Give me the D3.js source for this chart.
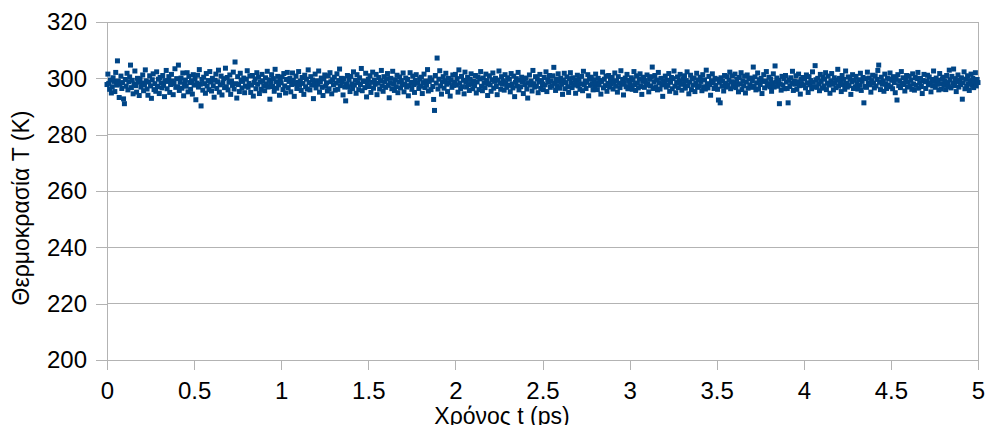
<!DOCTYPE html>
<html>
<head>
<meta charset="utf-8">
<script src="https://cdn.jsdelivr.net/npm/d3@7"></script>
<style>
  body { margin: 0; background: #fff; }
  svg { display: block; font-family: "Liberation Sans", Arial, sans-serif; }
</style>
</head>
<body>
<svg width="988" height="425"></svg>
<script>
// time step between samples (ps)
const dt = 0.005;

// temperature (K), one row per 0.1 ps
const temps = [
  297.8,301.5,298.2,296.1,299.4,294.8,297.0,300.2,298.9,295.3,302.1,297.6,306.2,299.0,293.2,297.9,300.8,296.4,298.5,292.7,
  291.0,299.6,297.2,301.8,295.9,298.8,300.5,304.7,296.7,299.3,294.5,298.0,302.6,297.4,295.1,300.0,298.6,293.9,299.8,296.9,
  298.3,301.2,295.6,297.7,303.0,299.1,296.2,294.0,298.7,300.9,297.3,292.9,299.5,301.6,296.0,298.1,295.4,302.3,297.1,299.7,
  294.6,300.3,298.4,296.6,301.0,297.5,293.5,299.2,302.8,296.3,298.9,300.6,295.0,297.8,301.4,299.0,294.2,298.2,303.4,296.8,
  299.9,297.0,304.7,295.7,298.6,300.1,296.5,301.9,293.8,298.0,299.4,297.2,302.0,295.2,300.7,298.5,296.1,299.1,294.4,301.3,
  297.6,299.8,292.4,298.3,301.1,296.9,303.1,297.9,290.2,299.6,295.8,300.4,298.1,294.7,301.7,297.3,299.2,296.0,302.4,298.7,
  295.5,300.0,297.4,293.3,299.3,301.5,296.4,298.8,302.9,295.1,297.7,300.8,294.1,298.4,299.9,296.7,303.6,297.0,300.3,295.9,
  298.6,301.2,294.3,299.0,297.5,302.2,296.2,305.8,298.1,293.0,300.6,297.8,295.3,301.8,299.4,296.6,298.9,300.1,294.9,297.2,
  299.7,302.7,296.8,298.2,300.9,295.0,297.6,301.0,293.7,298.5,299.8,296.3,302.0,297.9,300.4,294.6,298.7,296.1,301.4,299.1,
  297.4,295.6,300.2,298.0,302.5,296.9,299.5,292.6,298.3,301.3,297.1,299.9,295.4,303.2,298.8,296.5,300.7,297.7,294.0,299.2,
  298.4,300.5,296.0,301.7,297.3,294.8,299.6,302.1,296.7,298.9,300.0,295.2,297.8,301.9,299.3,293.6,298.1,300.8,296.4,298.6,
  302.4,297.5,299.0,295.7,300.3,298.2,294.3,301.1,297.0,299.7,296.2,303.0,298.5,295.9,300.6,297.6,299.4,292.8,298.0,301.5,
  296.6,299.1,297.9,302.6,295.1,298.7,300.1,296.8,293.9,299.8,301.2,297.2,298.4,295.5,300.9,296.3,302.0,298.8,294.5,299.5,
  297.7,300.4,295.8,298.3,301.6,296.1,299.2,303.3,297.4,300.0,298.6,294.1,299.9,296.9,292.0,298.1,301.0,297.0,299.6,295.3,
  300.7,298.0,296.4,302.3,297.6,299.3,294.7,301.3,298.5,296.0,300.2,297.8,303.5,295.6,299.0,298.9,296.7,301.8,293.4,298.2,
  299.7,297.1,300.9,295.0,298.6,302.2,296.5,299.4,297.9,301.4,294.2,298.3,300.3,296.2,299.1,302.8,297.3,295.4,300.6,298.8,
  296.8,299.9,301.7,297.5,293.1,298.4,300.0,296.3,302.5,298.1,295.7,299.5,297.0,301.1,294.9,298.7,300.5,296.6,299.2,297.7,
  301.9,295.2,298.0,300.1,296.9,299.6,293.8,297.4,302.0,298.6,296.1,300.8,297.8,295.0,299.3,301.3,291.2,298.2,296.4,299.8,
  297.2,300.4,294.6,298.5,301.5,296.7,299.0,297.6,303.1,295.5,298.9,300.2,296.0,299.4,297.1,292.5,288.6,301.0,298.3,307.2,
  296.2,299.7,302.7,297.3,294.4,298.8,300.6,296.5,299.1,301.8,297.9,295.3,300.0,298.4,293.7,299.5,296.8,301.2,297.5,298.7,
  301.4,297.6,299.9,295.1,303.0,298.2,296.4,300.7,297.0,299.3,294.5,302.2,298.6,296.9,300.3,297.8,295.7,299.6,301.6,298.0,
  296.3,299.0,297.4,301.0,294.8,298.7,300.5,296.0,299.8,302.4,297.2,295.6,300.1,298.4,296.7,301.5,299.2,293.9,298.1,300.9,
  297.7,295.4,299.5,301.9,296.5,298.9,300.0,297.1,294.2,299.4,302.6,298.3,296.1,300.6,297.9,299.1,295.8,301.3,298.5,296.8,
  300.2,297.5,299.7,295.2,301.7,298.0,296.6,300.8,293.5,298.6,299.9,297.3,302.1,295.9,299.3,297.0,300.4,298.8,294.6,299.6,
  297.8,300.1,296.2,293.0,298.4,301.2,297.6,299.0,295.5,302.8,298.1,296.9,300.6,297.2,299.8,294.9,298.7,301.4,296.4,299.2,
  298.0,296.0,300.3,297.7,302.3,295.3,299.5,298.6,301.0,296.8,299.1,297.4,300.9,303.9,298.2,295.7,299.7,297.1,301.6,298.9,
  296.5,300.0,297.9,294.3,299.4,301.8,296.3,298.5,300.5,297.0,295.0,299.9,302.0,298.3,296.7,300.2,297.6,299.3,294.7,298.8,
  301.1,297.3,299.6,296.1,298.0,300.7,295.6,302.5,297.8,299.0,296.4,298.6,301.3,293.8,299.8,297.5,300.4,298.1,295.9,299.5,
  297.1,301.5,298.4,296.0,300.0,297.7,299.2,294.4,298.9,302.2,296.6,299.7,297.4,300.8,295.4,298.2,301.0,296.9,299.4,298.0,
  300.3,296.2,298.7,301.9,297.2,299.1,295.1,300.6,298.3,296.7,302.7,297.9,299.6,294.1,298.5,300.1,297.0,301.4,296.3,299.3,
  298.6,297.4,300.2,296.1,299.5,302.4,297.8,295.7,300.9,298.3,296.6,299.8,301.6,297.1,294.3,298.9,300.4,296.8,299.2,297.6,
  301.2,298.1,295.2,299.7,297.3,300.6,304.0,296.4,298.8,301.0,297.0,299.4,295.9,302.1,298.4,296.2,300.0,297.7,293.6,299.1,
  298.2,300.8,296.9,299.3,297.5,301.7,295.4,298.6,300.3,296.3,299.9,302.6,297.2,294.9,298.5,300.5,296.7,299.0,301.4,297.9,
  295.8,299.6,298.0,300.9,296.5,299.2,302.3,297.4,294.5,298.7,301.1,296.0,299.8,297.6,300.1,295.3,298.3,301.8,296.8,299.4,
  297.3,300.4,298.9,295.6,301.3,297.0,299.5,296.2,302.9,298.1,296.6,300.7,297.8,294.0,299.1,301.6,298.4,296.4,300.0,297.5,
  299.7,296.1,292.3,298.6,291.3,300.2,297.2,299.0,295.5,301.0,298.2,296.9,300.6,297.6,299.3,302.2,296.3,298.8,300.9,297.1,
  298.5,301.5,296.7,299.6,297.9,295.2,300.3,298.0,302.0,296.0,299.1,297.4,300.8,294.8,298.7,301.2,296.5,299.8,297.7,300.1,
  296.8,299.2,304.0,297.3,300.5,295.9,298.4,301.9,296.2,299.5,297.8,300.0,294.6,298.9,301.3,296.6,299.0,302.4,297.5,298.1,
  300.4,297.0,299.7,295.4,298.3,301.6,296.9,304.4,298.6,300.1,297.2,299.3,291.0,298.0,295.8,300.7,297.6,299.9,296.3,301.0,
  298.7,296.4,291.3,299.4,297.1,300.2,298.2,302.5,295.7,299.0,297.9,300.9,296.1,298.8,301.5,297.4,294.4,299.6,298.0,300.3,
  297.5,299.9,296.6,301.2,298.4,295.0,300.6,297.7,299.2,296.3,302.3,298.6,297.0,304.5,299.5,296.8,300.0,298.1,295.6,301.4,
  298.9,296.5,300.4,297.3,299.7,302.0,296.0,298.3,300.8,297.6,294.7,299.1,301.7,297.9,295.9,300.2,298.5,296.7,299.4,303.2,
  297.2,300.0,298.7,295.3,301.0,297.8,299.6,296.1,302.6,298.2,296.9,300.5,297.4,299.8,294.3,298.8,301.3,296.4,299.3,297.0,
  300.7,298.0,296.2,299.5,297.5,301.8,295.7,298.9,300.3,291.3,297.1,299.9,296.8,302.2,298.4,300.1,297.7,295.1,299.2,301.1,
  298.3,296.6,300.9,297.3,299.6,302.8,304.7,298.6,296.0,300.4,297.9,299.0,295.4,301.5,298.1,296.4,300.0,297.6,299.8,301.9,
  297.0,299.3,296.3,300.6,298.5,294.9,299.7,292.3,301.3,297.4,299.1,296.7,302.4,298.2,300.2,297.8,295.5,299.5,301.0,296.9,
  298.7,300.8,297.2,299.4,296.1,301.6,298.0,295.8,300.3,297.5,299.9,302.1,296.5,298.4,300.0,297.1,294.6,299.2,301.4,298.8,
  296.4,299.0,301.1,297.7,300.5,298.3,295.2,299.6,297.3,302.6,298.9,296.8,300.1,297.9,299.3,295.9,301.7,298.1,296.2,299.8,
  300.4,297.6,299.1,296.0,301.0,298.5,297.0,302.9,299.5,296.6,300.7,298.2,303.3,297.4,299.9,295.3,298.8,301.2,296.9,299.4,
  297.8,300.2,292.6,298.4,302.3,296.3,299.7,297.1,300.9,298.0,295.7,299.2,301.5,297.5,300.0,296.7,298.6,302.0,297.3,299.6,
  298.5
];

const xTicks = [0, 0.5, 1, 1.5, 2, 2.5, 3, 3.5, 4, 4.5, 5];
const yTicks = [200, 220, 240, 260, 280, 300, 320];

const xTitle = "Χρόνος t (ps)";
const yTitle = "Θερμοκρασία T (K)";

const svg = d3.select("svg");
const plotL = 107, plotR = 978, plotT = 22, plotB = 360;
const axisColor = "#b3b3b3";

const x = d3.scaleLinear().domain([0, 5]).range([plotL, plotR]);
const y = d3.scaleLinear().domain([200, 320]).range([plotB, plotT]);

// horizontal grid
svg.append("g")
    .selectAll("line")
    .data(yTicks)
    .enter().append("line")
    .attr("x1", plotL).attr("x2", plotR)
    .attr("y1", d => y(d)).attr("y2", d => y(d))
    .attr("stroke", axisColor)
    .attr("stroke-width", 1)
    .attr("shape-rendering", "crispEdges");

const xAxis = svg.append("g")
    .attr("transform", `translate(0,${plotB})`)
    .call(d3.axisBottom(x).tickValues(xTicks).tickFormat(d3.format("")).tickSizeInner(10).tickSizeOuter(0).tickPadding(12));

const yAxis = svg.append("g")
    .attr("transform", `translate(${plotL},0)`)
    .call(d3.axisLeft(y).tickValues(yTicks).tickSizeInner(11).tickSizeOuter(0).tickPadding(9));

[xAxis, yAxis].forEach(g => {
    g.select(".domain").attr("stroke", axisColor).attr("shape-rendering", "crispEdges");
    g.selectAll(".tick line").attr("stroke", axisColor).attr("shape-rendering", "crispEdges");
    g.selectAll(".tick text")
        .attr("fill", "#000")
        .style("font-family", "'Liberation Sans', Arial, sans-serif")
        .style("font-size", "24px");
});

// right edge of plot area
svg.append("line")
    .attr("x1", plotR).attr("x2", plotR)
    .attr("y1", plotT).attr("y2", plotB)
    .attr("stroke", axisColor)
    .attr("shape-rendering", "crispEdges");

// points
const sz = 5;
svg.append("g")
    .selectAll("rect")
    .data(temps)
    .enter().append("rect")
    .attr("x", (d, i) => x(i * dt) - sz / 2)
    .attr("y", d => y(d) - sz / 2)
    .attr("width", sz)
    .attr("height", sz)
    .attr("fill", "#004586");

svg.append("text")
    .attr("x", 502)
    .attr("y", 424)
    .attr("text-anchor", "middle")
    .style("font-size", "23px")
    .text(xTitle);

svg.append("text")
    .attr("transform", `translate(29,208) rotate(-90)`)
    .attr("text-anchor", "middle")
    .style("font-size", "23px")
    .text(yTitle);
</script>
</body>
</html>
